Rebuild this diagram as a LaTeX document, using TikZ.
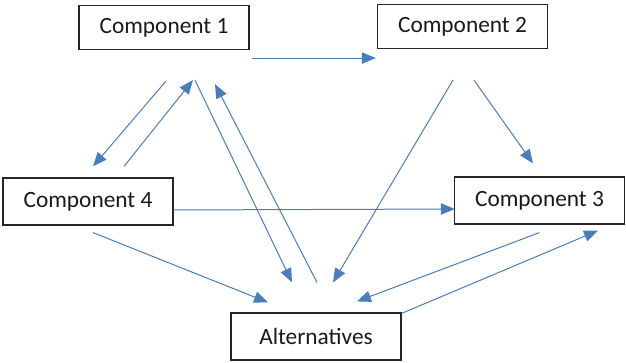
\documentclass[tikz,border=0pt]{standalone}
\usepackage{fontspec}
\setmainfont{Carlito}
\usetikzlibrary{arrows.meta, calc}
\definecolor{boxLine}{HTML}{262626}
\definecolor{textInk}{HTML}{1a1a1a}
\definecolor{linkBlue}{HTML}{4a7ebb}
\def\boxW{170}
\def\boxH{44}

\begin{document}
\begin{tikzpicture}[
    x=0.75pt, y=-0.75pt,
    every node/.style={font=\fontsize{17.5}{20}\selectfont, text=textInk},
    comp/.style={draw=boxLine, line width=0.9pt, fill=white,
                 minimum width=\boxW*0.75pt, minimum height=\boxH*0.75pt,
                 inner sep=0pt},
    link/.style={-{Triangle[length=10.5pt,width=8.5pt]}, line width=0.75pt,
                 draw=linkBlue, color=linkBlue},
    ]

\useasboundingbox (0,0) rectangle (626,363);

% ====================================================================
% Boxes
% ====================================================================
\node[comp] (c1)  at (164,27.5)   {Component 1};
\node[comp] (c2)  at (462.5,26.5) {Component 2};
\node[comp, minimum height=47*0.75pt] (c4)  at (88,201.5)    {Component 4};
\node[comp, minimum height=47*0.75pt] (c3)  at (539.5,200.5) {Component 3};
\node[comp, minimum height=47*0.75pt] (alt) at (316,336.5)   {Alternatives};

% ====================================================================
% Links (free-standing arrows between the boxes)
% ====================================================================
% top row
\draw[link] ($(c1.south east)+(2,8)$) -- ($(c2.south west)+(-1,9)$);

% Component 1 <-> Component 4
\draw[link] ($(c1.south)+(2,31)$) -- ($(c4.north)+(5,-11)$);
\draw[link] ($(c4.north)+(36,-11)$) -- ($(c1.south)+(29,30)$);

% Component 1 <-> Alternatives
\draw[link] ($(c1.south)+(31,30)$) -- ($(alt.north)+(-24,-30)$);
\draw[link] ($(alt.north)+(1,-30)$) -- ($(c1.south)+(51,34)$);

% Component 2 -> Alternatives, Component 3
\draw[link] ($(c2.south)+(-9.5,31)$) -- ($(alt.north)+(17,-30)$);
\draw[link] ($(c2.south)+(11.5,31)$) -- ($(c3.north)+(-6.5,-13)$);

% Component 4 -> Component 3, Alternatives
\draw[link] ($(c4.east)+(0,8.5)$) -- ($(c3.west)+(1,8.5)$);
\draw[link] ($(c4.south)+(5,7)$) -- ($(alt.north)+(-48,-10)$);

% Component 3 <-> Alternatives
\draw[link] ($(c3.south)+(0,8)$) -- ($(alt.north)+(41,-11)$);
\draw[link] ($(alt.north east)+(0,1)$) -- ($(c3.south)+(58.5,6)$);

\end{tikzpicture}
\end{document}
